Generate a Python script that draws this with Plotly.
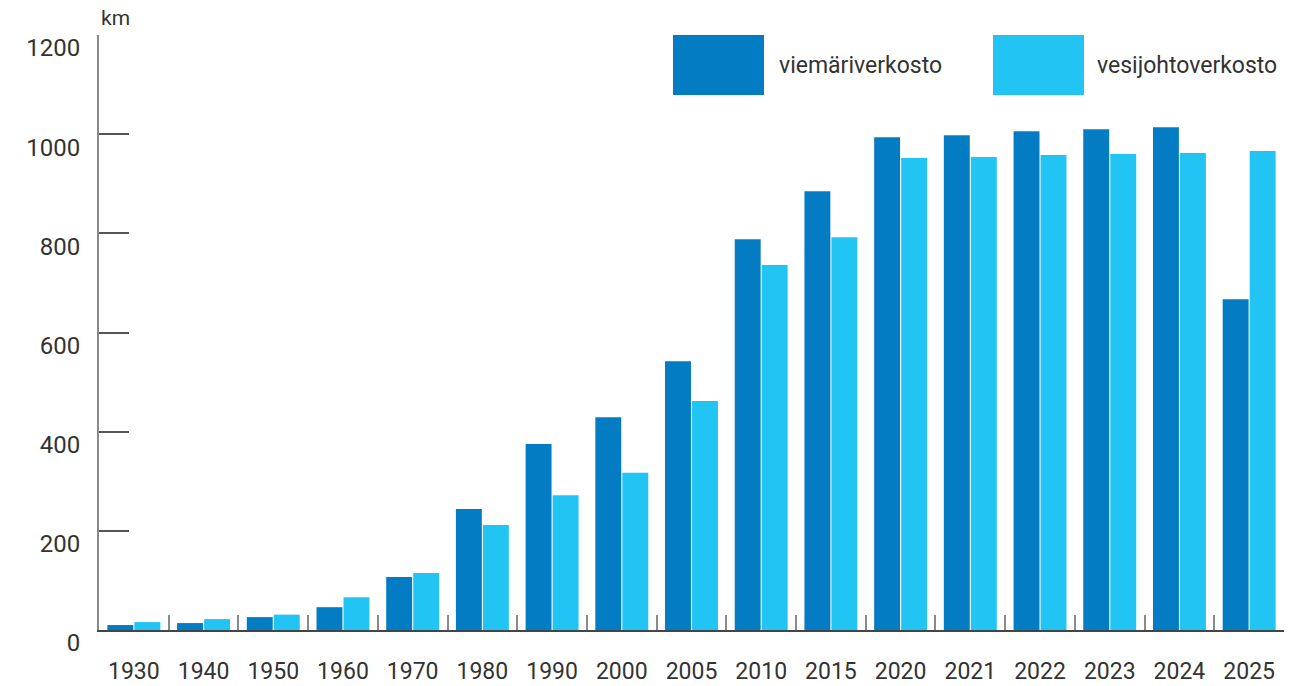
import plotly.graph_objects as go

# Verkostojen pituus (km) vuosittain
years = ["1930", "1940", "1950", "1960", "1970", "1980", "1990", "2000", "2005",
         "2010", "2015", "2020", "2021", "2022", "2023", "2024", "2025"]
viemari = [10, 14, 26, 46, 107, 244, 375, 429, 542, 788, 885, 994, 998, 1006, 1010, 1014, 667]
vesijohto = [16, 22, 31, 66, 115, 212, 272, 317, 462, 736, 792, 952, 954, 958, 960, 962, 966]

y_ticks = [0, 200, 400, 600, 800, 1000, 1200]

dark = "#037cc4"
light = "#22c4f4"
text_col = "#333333"
font_family = "Roboto, 'Noto Sans', sans-serif"

fig = go.Figure()
fig.add_trace(go.Bar(x=years, y=viemari, name="viemäriverkosto",
                     marker=dict(color=dark, line=dict(width=0)), showlegend=False))
fig.add_trace(go.Bar(x=years, y=vesijohto, name="vesijohtoverkosto",
                     marker=dict(color=light, line=dict(width=0)), showlegend=False))

fig.update_layout(
    width=1303, height=686,
    margin=dict(l=99, r=19, t=35, b=56),
    paper_bgcolor="white", plot_bgcolor="white",
    barmode="group", bargap=0.225, bargroupgap=0.04,
    font=dict(family=font_family, size=24, color=text_col),
    xaxis=dict(
        type="category", showgrid=False, zeroline=False, automargin=False,
        showline=True, linecolor="#444444", linewidth=2,
        ticks="inside", tickson="boundaries", ticklen=15, tickwidth=2, tickcolor="#8a8a8a",
        ticklabelstandoff=19,
        tickfont=dict(size=23, color=text_col),
    ),
    yaxis=dict(
        range=[0, 1200], tickvals=y_ticks, showgrid=False, zeroline=False, automargin=False,
        showline=True, linecolor="#8a8a8a", linewidth=2,
        ticks="inside", ticklen=30, tickwidth=1.5, tickcolor="#555555",
        ticklabelshift=13, ticklabelstandoff=12,
        tickfont=dict(size=24, color=text_col),
    ),
)

W, H = 1303, 686
pl, pr, pt, pb = 99, 19, 35, 56
pw, ph = W - pl - pr, H - pt - pb
def px(xp):
    return (xp - pl) / pw
def py(yp):
    return (H - pb - yp) / ph

# Yksikkö akselin yläpuolella
fig.add_annotation(text="km", xref="paper", yref="paper", x=px(115), y=py(18),
                   xanchor="center", yanchor="middle", showarrow=False,
                   font=dict(size=21, color=text_col))

# Selite: isot värilaatikot ja tekstit
legend_items = [("viemäriverkosto", dark, 673, 764, 777),
                ("vesijohtoverkosto", light, 993, 1084, 1095)]
for label, col, x0, x1, xt in legend_items:
    fig.add_shape(type="rect", xref="paper", yref="paper",
                  x0=px(x0), x1=px(x1), y0=py(95), y1=py(35),
                  fillcolor=col, line=dict(width=0), layer="above")
    fig.add_annotation(text=label, xref="paper", yref="paper",
                       x=px(xt), y=py(65), xanchor="left", yanchor="middle",
                       showarrow=False, font=dict(size=23, color=text_col))

fig.write_html("out.html")
